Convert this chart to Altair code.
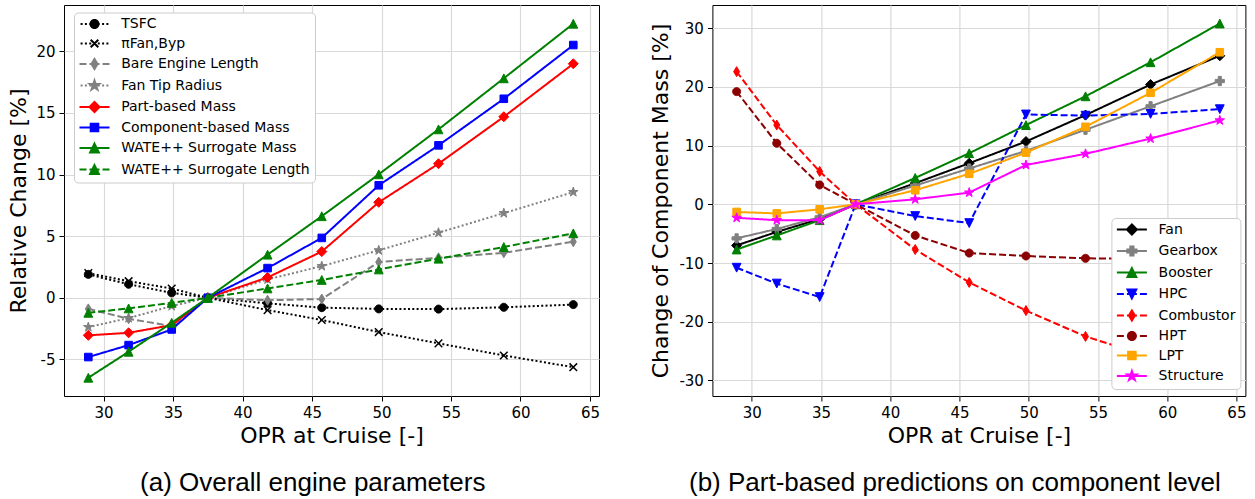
import math
import altair as alt
import pandas as pd

# ---------------- data ----------------
opr = [28.9, 31.8, 34.9, 37.5, 41.8, 45.7, 49.8, 54.1, 58.8, 63.8]

# panel (a): overall engine parameters, relative change [%]
a_names = ["TSFC", "πFan,Byp", "Bare Engine Length", "Fan Tip Radius",
           "Part-based Mass", "Component-based Mass",
           "WATE++ Surrogate Mass", "WATE++ Surrogate Length"]
tsfc = [1.9, 1.1, 0.4, 0.0, -0.45, -0.8, -0.9, -0.92, -0.77, -0.55]
pi_fan_byp = [2.0, 1.35, 0.75, 0.0, -1.0, -1.8, -2.78, -3.7, -4.68, -5.63]
bare_engine_length = [-0.9, -1.7, -2.3, 0.0, -0.2, -0.1, 2.9, 3.25, 3.65, 4.55]
fan_tip_radius = [-2.38, -1.65, -0.67, 0.0, 1.49, 2.57, 3.85, 5.28, 6.87, 8.58]
part_based_mass = [-3.05, -2.84, -2.22, 0.0, 1.65, 3.75, 7.75, 10.88, 14.69, 18.99]
component_based_mass = [-4.81, -3.84, -2.57, 0.0, 2.41, 4.86, 9.13, 12.37, 16.15, 20.51]
wate_surrogate_mass = [-6.49, -4.38, -2.03, 0.0, 3.5, 6.62, 10.02, 13.67, 17.81, 22.24]
wate_surrogate_length = [-1.22, -0.86, -0.41, 0.0, 0.76, 1.45, 2.3, 3.17, 4.12, 5.23]
a_values = [tsfc, pi_fan_byp, bare_engine_length, fan_tip_radius,
            part_based_mass, component_based_mass,
            wate_surrogate_mass, wate_surrogate_length]

# panel (b): change of component mass [%]
b_names = ["Fan", "Gearbox", "Booster", "HPC", "Combustor", "HPT", "LPT", "Structure"]
fan = [-7.0, -4.7, -2.5, 0.0, 3.6, 7.0, 10.7, 15.2, 20.4, 25.3]
gearbox = [-5.8, -4.2, -2.2, 0.0, 3.2, 6.1, 9.1, 12.7, 16.7, 21.0]
booster = [-7.7, -5.3, -2.7, 0.0, 4.5, 8.7, 13.5, 18.4, 24.2, 30.8]
hpc = [-10.8, -13.5, -15.8, 0.0, -2.0, -3.2, 15.3, 15.1, 15.4, 16.2]
combustor = [22.6, 13.5, 5.6, 0.0, -7.7, -13.3, -18.1, -22.5, -26.0, -29.2]
hpt = [19.2, 10.4, 3.3, 0.0, -5.3, -8.3, -8.8, -9.2, -9.3, -9.4]
lpt = [-1.3, -1.55, -0.85, 0.0, 2.4, 5.2, 8.8, 13.2, 19.0, 25.9]
structure = [-2.3, -2.7, -2.7, 0.0, 0.85, 2.0, 6.7, 8.6, 11.2, 14.3]
b_values = [fan, gearbox, booster, hpc, combustor, hpt, lpt, structure]

x_ticks = [30, 35, 40, 45, 50, 55, 60, 65]
a_y_ticks = [-5, 0, 5, 10, 15, 20]
b_y_ticks = [-30, -20, -10, 0, 10, 20, 30]

# ---------------- styles ----------------
a_styles = [
    ("#000000", "dotted", "circle"),
    ("#000000", "dotted", "x"),
    ("#808080", "dashed", "thin_diamond"),
    ("#808080", "dotted", "star"),
    ("#ff0000", "solid", "diamond"),
    ("#0000ff", "solid", "square"),
    ("#008000", "solid", "triangle_up"),
    ("#008000", "dashed", "triangle_up"),
]
b_styles = [
    ("#000000", "solid", "diamond"),
    ("#808080", "solid", "plus"),
    ("#008000", "solid", "triangle_up"),
    ("#0000ff", "dashed", "triangle_down"),
    ("#ff0000", "dashed", "thin_diamond"),
    ("#8b0000", "dashed", "circle"),
    ("#ffa500", "solid", "square"),
    ("#ff00ff", "solid", "star"),
]
DASH = {"solid": [1, 0], "dashed": [7, 3], "dotted": [2, 2.3]}
UNIT = 5.0  # px per path unit for symbol size 100


def _p(x, y):
    return f"{x / UNIT:.3f},{y / UNIT:.3f}"


def poly(pts):
    return "M" + "L".join(_p(x, y) for x, y in pts) + "Z"


def marker_path(kind):
    if kind == "circle":
        r = 4.0
        return poly([(r * math.cos(2 * math.pi * k / 28), r * math.sin(2 * math.pi * k / 28)) for k in range(28)])
    if kind == "x":
        h = 3.8
        return f"M{_p(-h, -h)}L{_p(h, h)}M{_p(-h, h)}L{_p(h, -h)}"
    if kind == "thin_diamond":
        return poly([(0, -5), (3, 0), (0, 5), (-3, 0)])
    if kind == "diamond":
        return poly([(0, -5), (5, 0), (0, 5), (-5, 0)])
    if kind == "square":
        h = 3.8
        return poly([(-h, -h), (h, -h), (h, h), (-h, h)])
    if kind == "triangle_up":
        h = 4.4
        return poly([(0, -h), (h, h), (-h, h)])
    if kind == "triangle_down":
        h = 4.4
        return poly([(0, h), (h, -h), (-h, -h)])
    if kind == "star":
        pts = []
        for k in range(10):
            r = 5.0 if k % 2 == 0 else 1.95
            a = -math.pi / 2 + k * math.pi / 5
            pts.append((r * math.cos(a), r * math.sin(a)))
        return poly(pts)
    if kind == "plus":
        h, w = 4.6, 1.6
        return poly([(-w, -h), (w, -h), (w, -w), (h, -w), (h, w), (w, w), (w, h),
                     (-w, h), (-w, w), (-h, w), (-h, -w), (-w, -w)])
    raise ValueError(kind)


def line_path(dash):
    if dash == "solid":
        segs = [(-15, 15)]
    elif dash == "dashed":
        segs = [(-15, -8), (-5, 5), (8, 15)]
    else:
        segs = [(-13.9 + k * 4.3, -13.9 + k * 4.3 + 2.0) for k in range(7)]
    return "".join(f"M{_p(a, 0)}L{_p(b, 0)}" for a, b in segs)


def label_fix():
    return "replace(datum.label, '\u2212', '-')"


def panel(names, values, styles, ydom, yticks, ytitle, ytitle_pad, width,
          legend_x, legend_y, caption, caption_dx):
    rows = []
    for name, vals in zip(names, values):
        for xv, yv in zip(opr, vals):
            rows.append({"series": name, "x": xv, "y": yv})
    df = pd.DataFrame(rows)

    xaxis = alt.Axis(title="OPR at Cruise [-]", values=x_ticks, labelExpr=label_fix(),
                     titlePadding=5, grid=True)
    yaxis = alt.Axis(title=ytitle, values=yticks, labelExpr=label_fix(),
                     titlePadding=ytitle_pad, grid=True)
    xenc = alt.X("x:Q", scale=alt.Scale(domain=[27.15, 65.65], nice=False, zero=False), axis=xaxis)
    yenc = alt.Y("y:Q", scale=alt.Scale(domain=ydom, nice=False, zero=False), axis=yaxis)

    base = alt.Chart(df)
    layers = []
    for name, (c, dash, mk) in zip(names, styles):
        sub = base.transform_filter(alt.datum.series == name)
        layers.append(sub.mark_line(color=c, strokeWidth=2, strokeDash=DASH[dash],
                                    strokeCap="butt").encode(x=xenc, y=yenc))
        layers.append(sub.mark_point(shape=marker_path(mk), filled=True, fill=c, stroke=c,
                                     strokeWidth=1.5 if mk == "x" else 1, size=100,
                                     opacity=1).encode(x=xenc, y=yenc))

    colors = [s[0] for s in styles]
    legend_paths = [line_path(s[1]) + marker_path(s[2]) for s in styles]
    leg = alt.Legend(title=None, orient="none", legendX=legend_x, legendY=legend_y,
                     fillColor="white", strokeColor="#cccccc", cornerRadius=4, padding=4.5,
                     symbolSize=100, symbolStrokeWidth=2, symbolOpacity=1,
                     symbolOffset=9, labelOffset=19.7, labelFont="DejaVu Sans",
                     labelFontSize=14, labelColor="black", rowPadding=3.5, labelLimit=400)
    legend_layer = base.transform_filter("false").mark_point(
        filled=True, size=100, opacity=1, strokeWidth=2).encode(
        x=xenc, y=yenc,
        fill=alt.Fill("series:N", scale=alt.Scale(domain=names, range=colors), legend=leg),
        stroke=alt.Stroke("series:N", scale=alt.Scale(domain=names, range=colors), legend=leg),
        shape=alt.Shape("series:N", scale=alt.Scale(domain=names, range=legend_paths), legend=leg),
    )
    layers.append(legend_layer)

    return alt.layer(*layers).properties(
        width=width, height=391,
        title=alt.TitleParams(caption, orient="bottom", anchor="middle", frame="bounds",
                              font="Liberation Sans", fontSize=26, fontWeight="normal",
                              color="black", offset=23.7, dx=caption_dx),
    )


left = panel(a_names, a_values, a_styles, [-7.97, 23.76], a_y_ticks, "Relative Change [%]", 5,
             535, 10, 7.5, "(a) Overall engine parameters", 9)
right = panel(b_names, b_values, b_styles, [-32.65, 33.95], b_y_ticks, "Change of Component Mass [%]", 6,
              533, 399, 213, "(b) Part-based predictions on component level", 7)

chart = alt.hconcat(left, right, spacing=48.4).resolve_scale(
    fill="independent", stroke="independent", shape="independent"
).resolve_legend(
    fill="independent", stroke="independent", shape="independent"
).properties(
    padding={"left": 7, "top": 4, "right": 5, "bottom": 0}
).configure_view(stroke="black", strokeWidth=1).configure_axis(
    labelFont="DejaVu Sans", labelFontSize=15, labelColor="black", labelPadding=4,
    titleFont="DejaVu Sans", titleFontSize=22, titleFontWeight="normal", titleColor="black",
    tickColor="black", tickSize=5, tickWidth=1, gridColor="#d9d9d9", gridWidth=1.2,
    domain=False,
).configure_title(font="Liberation Sans")

chart.save("out.html", embed_options={"renderer": "svg", "actions": False})
